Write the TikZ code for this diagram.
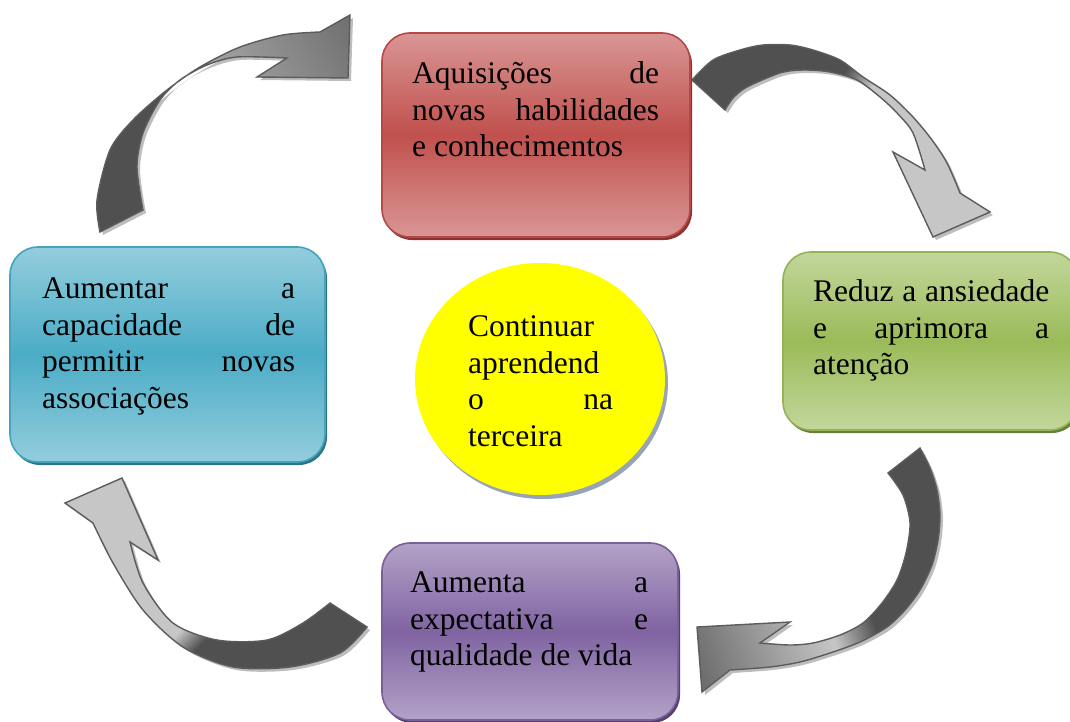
\documentclass[tikz,border=0pt]{standalone}
\usepackage{fontspec}
\setmainfont{Liberation Serif}
\usetikzlibrary{shapes.geometric,shadows}

% Цвета блоков
\definecolor{RedTop}{HTML}{D99694}
\definecolor{RedMid}{HTML}{C0504D}
\definecolor{RedEdge}{HTML}{B5494A}
\definecolor{RedShadow}{HTML}{8C3330}
\definecolor{BlueTop}{HTML}{93CDDD}
\definecolor{BlueMid}{HTML}{4BACC6}
\definecolor{BlueEdge}{HTML}{46A3BC}
\definecolor{BlueShadow}{HTML}{2E7487}
\definecolor{GreenTop}{HTML}{C3D69B}
\definecolor{GreenMid}{HTML}{9BBB59}
\definecolor{GreenEdge}{HTML}{94B355}
\definecolor{GreenShadow}{HTML}{66803A}
\definecolor{VioTop}{HTML}{B3A2C7}
\definecolor{VioMid}{HTML}{8064A2}
\definecolor{VioEdge}{HTML}{7A5F9A}
\definecolor{VioShadow}{HTML}{54406E}
\definecolor{SunFill}{HTML}{FFFF00}
\definecolor{SunShadow}{HTML}{97A3B8}
% Цвета стрелок
\definecolor{RibbonDark}{HTML}{505050}
\definecolor{RibbonSoft}{HTML}{A2A2A2}
\definecolor{RibbonLight}{HTML}{C6C6C6}
\definecolor{RibbonMid}{HTML}{6E6E6E}
\definecolor{RibbonEdge}{HTML}{5C5C5C}
\definecolor{RibbonShadow}{HTML}{BDBDBD}

% Переход тёмной части ленты в светлую
\pgfdeclarehorizontalshading{twistTL}{100bp}{color(0bp)=(RibbonDark); color(47bp)=(RibbonDark); color(55bp)=(RibbonSoft); color(85bp)=(RibbonMid); color(100bp)=(RibbonMid)}
\pgfdeclarehorizontalshading{twistTR}{100bp}{color(0bp)=(RibbonDark); color(44bp)=(RibbonDark); color(50bp)=(RibbonLight); color(100bp)=(RibbonLight)}
\pgfdeclarehorizontalshading{twistBR}{100bp}{color(0bp)=(RibbonDark); color(43bp)=(RibbonDark); color(52bp)=(RibbonLight); color(80bp)=(RibbonMid); color(100bp)=(RibbonMid)}
\pgfdeclarehorizontalshading{twistBL}{100bp}{color(0bp)=(RibbonDark); color(42bp)=(RibbonDark); color(47bp)=(RibbonLight); color(100bp)=(RibbonLight)}

\begin{document}
\begin{tikzpicture}[
    x=1pt, y=-1pt,
    % Лента-стрелка: контур, тень
    ribbon/.style={draw=RibbonEdge, line width=1.4pt,
        drop shadow={shadow xshift=3pt, shadow yshift=-3pt, fill=RibbonShadow, opacity=1}},
    % Блок: скруглённый прямоугольник с градиентом
    stepbox/.style={rectangle, rounded corners=28pt, line width=1.6pt, inner sep=0pt},
    % Текст в блоках (по ширине)
    boxtext/.style={anchor=north west, inner sep=0pt, align=justify,
        font=\fontsize{31.5}{36.5}\selectfont}
]
    \useasboundingbox (0,0) rectangle (1070,722);

    % Стрелка: синий -> красный
    \shadedraw[ribbon, shading=twistTL, shading angle=30]
        plot[smooth] coordinates {(100,232) (97,200) (110,150) (133,120) (167,90) (200,67) (240,47) (283,35) (320,32)}
        -- (350,15) -- (348,78) -- (257,77) -- (287,58)
        -- plot[smooth] coordinates {(287,58) (237,57) (207,65) (180,80) (160,100) (143,133) (137,167) (143,210)}
        -- cycle;

    % Стрелка: красный -> зелёный
    \shadedraw[ribbon, shading=twistTR, shading angle=-30]
        plot[smooth] coordinates {(692,80) (713,60) (740,50) (763,45) (790,45) (813,50) (840,60) (863,77) (890,95) (913,117) (932,140) (947,163) (960,193)}
        -- (990,212) -- (933,237) -- (893,152) -- (925,170)
        -- plot[smooth] coordinates {(925,170) (913,133) (897,113) (880,97) (857,80) (830,72) (803,70) (780,73) (747,87) (733,98) (725,110)}
        -- cycle;

    % Стрелка: зелёный -> фиолетовый
    \shadedraw[ribbon, shading=twistBR, shading angle=200]
        plot[smooth] coordinates {(920,448) (930,468) (937,490) (940,515) (938,540) (932,565) (920,590) (905,610) (887,627) (860,642) (830,653) (800,662) (770,667) (730,670)}
        -- (702,692) -- (697,627) -- (790,622) -- (760,643)
        -- plot[smooth] coordinates {(760,643) (790,645) (813,643) (840,635) (863,623) (882,603) (897,580) (906,553) (910,523) (903,495) (888,473)}
        -- cycle;

    % Стрелка: фиолетовый -> синий
    \shadedraw[ribbon, shading=twistBL, shading angle=135]
        plot[smooth] coordinates {(367,627) (340,653) (290,667) (233,667) (183,647) (143,610) (113,563) (93,523)}
        -- (65,503) -- (122,478) -- (158,560) -- (130,542)
        -- plot[smooth] coordinates {(130,542) (143,583) (173,623) (217,640) (267,640) (303,623) (330,603)}
        -- cycle;

    % Блоки
    \node[stepbox, draw=RedEdge, top color=RedTop, bottom color=RedTop, middle color=RedMid,
        minimum width=308pt, minimum height=204pt,
        drop shadow={shadow xshift=2pt, shadow yshift=-3pt, fill=RedShadow, opacity=1}]
        (aquis) at (536,135) {};
    \node[stepbox, draw=BlueEdge, top color=BlueTop, bottom color=BlueTop, middle color=BlueMid,
        minimum width=315pt, minimum height=215pt,
        drop shadow={shadow xshift=2pt, shadow yshift=-3pt, fill=BlueShadow, opacity=1}]
        (aument) at (167.5,354.5) {};
    \node[stepbox, draw=GreenEdge, top color=GreenTop, bottom color=GreenTop, middle color=GreenMid,
        minimum width=295pt, minimum height=178pt,
        drop shadow={shadow xshift=2pt, shadow yshift=-3pt, fill=GreenShadow, opacity=1}]
        (reduz) at (930.5,341) {};
    \node[stepbox, draw=VioEdge, top color=VioTop, bottom color=VioTop, middle color=VioMid,
        minimum width=296pt, minimum height=177pt,
        drop shadow={shadow xshift=2pt, shadow yshift=-3pt, fill=VioShadow, opacity=1}]
        (expect) at (530,631.5) {};

    % Центр
    \node[ellipse, fill=SunFill, inner sep=0pt, minimum width=250pt, minimum height=232pt,
        drop shadow={shadow xshift=3pt, shadow yshift=-4pt, fill=SunShadow, opacity=1}]
        (contin) at (540,379) {};

    % Тексты
    \node[boxtext, text width=247pt] (aquistxt) at (412,61.5)
        {Aquisições de\linebreak novas habilidades\linebreak e conhecimentos};
    \node[boxtext, text width=253pt] (aumenttxt) at (42,277.7)
        {Aumentar a\linebreak capacidade de\linebreak permitir novas\linebreak associações};
    \node[boxtext, text width=236pt] (reduztxt) at (813,279.5)
        {Reduz a ansiedade\linebreak e aprimora a\linebreak atenção};
    \node[boxtext, text width=238pt] (expecttxt) at (410,571.7)
        {Aumenta a\linebreak expectativa e\linebreak qualidade de vida};
    \node[boxtext, text width=145pt] (contintxt) at (468,315.7)
        {Continuar\linebreak aprendend\linebreak o na\linebreak terceira};

\end{tikzpicture}
\end{document}
